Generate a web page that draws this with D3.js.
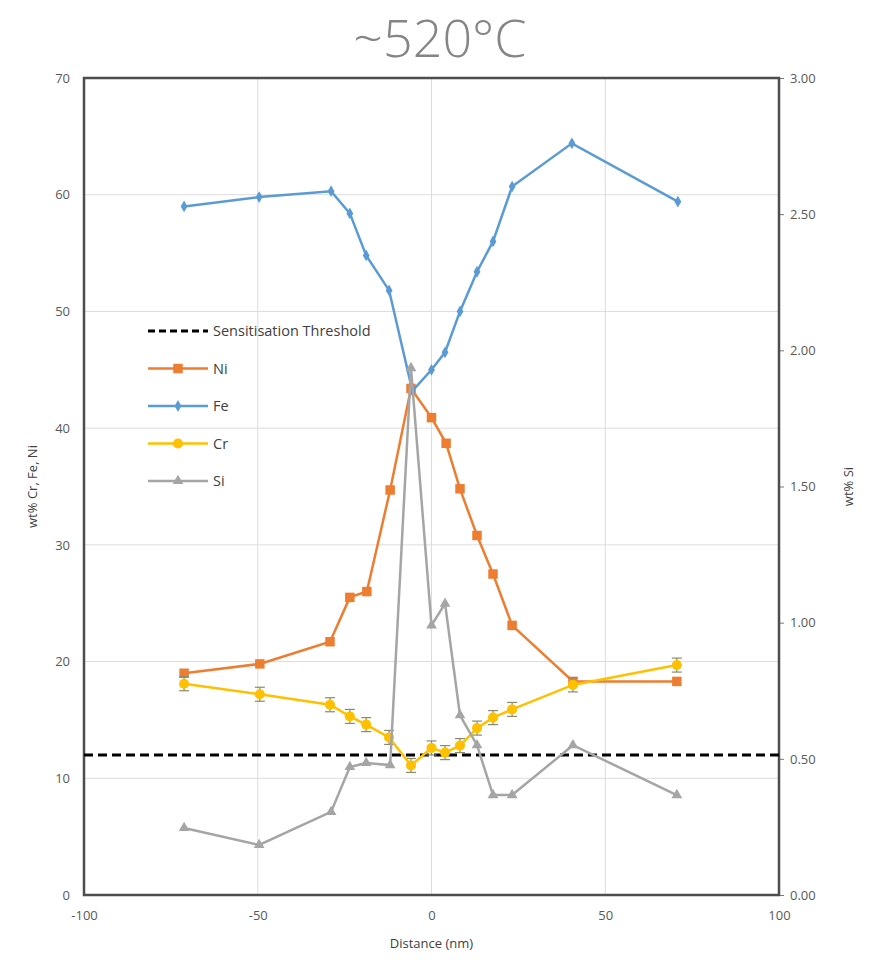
<!DOCTYPE html>
<html>
<head>
<meta charset="utf-8">
<script src="https://cdn.jsdelivr.net/npm/d3@7"></script>
<style>
  body { margin: 0; background: #fff; }
  svg text { font-family: "Open Sans", "Noto Sans", sans-serif; }
</style>
</head>
<body>
<div id="chart"></div>
<script>
const width = 890,
  height = 960,
  margin = {top: 78, right: 111, bottom: 65, left: 84};

// distances (nm) per series
const feX = [-71.2, -49.6, -28.9, -23.5, -18.8, -12.2, -5.5, 0, 3.9, 8.2, 13.1, 17.7, 23.2, 40.4, 70.9];
const feY = [59.0, 59.8, 60.3, 58.4, 54.8, 51.8, 43.2, 45.0, 46.5, 50.0, 53.4, 56.0, 60.7, 64.4, 59.4];

const niX = [-71.2, -49.4, -29.2, -23.5, -18.6, -11.9, -5.9, 0, 4.2, 8.2, 13.1, 17.7, 23.2, 40.7, 70.6];
const niY = [19.0, 19.8, 21.7, 25.5, 26.0, 34.7, 43.4, 40.9, 38.7, 34.8, 30.8, 27.5, 23.1, 18.3, 18.3];

const crX = [-71.2, -49.4, -29.2, -23.5, -18.8, -12.2, -5.9, 0, 3.9, 8.2, 13.1, 17.7, 23.2, 40.7, 70.6];
const crY = [18.1, 17.2, 16.3, 15.3, 14.6, 13.5, 11.1, 12.6, 12.2, 12.8, 14.3, 15.2, 15.9, 18.0, 19.7];
const crErr = [0.6, 0.6, 0.6, 0.6, 0.6, 0.6, 0.6, 0.6, 0.6, 0.6, 0.6, 0.6, 0.6, 0.6, 0.6];

const siX = [-71.2, -49.6, -28.9, -23.5, -18.8, -11.9, -5.9, 0, 3.9, 8.2, 13.1, 17.7, 23.2, 40.7, 70.6];
const siY = [0.246, 0.184, 0.305, 0.47, 0.485, 0.477, 1.935, 0.99, 1.07, 0.66, 0.55, 0.367, 0.367, 0.55, 0.367];

const threshold = 12;

const xTicks = [-100, -50, 0, 50, 100];
const yTicks = [0, 10, 20, 30, 40, 50, 60, 70];
const y2Ticks = [0, 0.5, 1, 1.5, 2, 2.5, 3];

const colors = {Ni: '#ed7d31', Fe: '#5b9bd5', Cr: '#ffc000', Si: '#a5a5a5'};

const x = d3.scaleLinear().domain([-100, 100]).range([margin.left, width - margin.right]);
const y = d3.scaleLinear().domain([0, 70]).range([height - margin.bottom, margin.top]);
const y2 = d3.scaleLinear().domain([0, 3]).range([height - margin.bottom, margin.top]);

const svg = d3.select('#chart').append('svg')
  .attr('width', width)
  .attr('height', height);

// title
svg.append('text')
  .attr('x', 440)
  .attr('y', 57)
  .attr('text-anchor', 'middle')
  .attr('font-size', 52)
  .attr('font-weight', 300)
  .attr('fill', '#858585')
  .text('~520°C');

// gridlines
const grid = svg.append('g').attr('class', 'grid');
grid.selectAll('line.h')
  .data(yTicks.slice(1, -1))
  .enter().append('line')
  .attr('x1', x(-100)).attr('x2', x(100))
  .attr('y1', d => y(d)).attr('y2', d => y(d))
  .attr('stroke', '#dcdcdc');
grid.selectAll('line.v')
  .data(xTicks.slice(1, -1))
  .enter().append('line')
  .attr('x1', d => x(d)).attr('x2', d => x(d))
  .attr('y1', y(0)).attr('y2', y(70))
  .attr('stroke', '#dcdcdc');

// axes
const axisColor = '#595959';
const yAxis = svg.append('g')
  .attr('transform', `translate(${margin.left},0)`)
  .call(d3.axisLeft(y).tickValues(yTicks).tickSize(0).tickPadding(14));
const y2Axis = svg.append('g')
  .attr('transform', `translate(${width - margin.right},0)`)
  .call(d3.axisRight(y2).tickValues(y2Ticks).tickSize(5).tickPadding(6).tickFormat(d => d.toFixed(2)));
const xAxis = svg.append('g')
  .attr('transform', `translate(0,${height - margin.bottom})`)
  .call(d3.axisBottom(x).tickValues(xTicks).tickSize(0).tickPadding(16).tickFormat(d => String(d)));

[yAxis, y2Axis, xAxis].forEach(a => {
  a.select('.domain').remove();
  a.selectAll('text').attr('font-size', 13).attr('fill', axisColor)
    .attr('font-family', '"Open Sans", sans-serif');
  a.selectAll('line').attr('stroke', '#777');
});

// frame
svg.append('rect')
  .attr('x', x(-100)).attr('y', y(70))
  .attr('width', x(100) - x(-100))
  .attr('height', y(0) - y(70))
  .attr('fill', 'none')
  .attr('stroke', '#4d4d4d')
  .attr('stroke-width', 2.5);

// axis titles
svg.append('text')
  .attr('transform', `translate(37,${(y(0) + y(70)) / 2}) rotate(-90)`)
  .attr('text-anchor', 'middle')
  .attr('font-size', 13)
  .attr('fill', '#404040')
  .text('wt% Cr, Fe, Ni');
svg.append('text')
  .attr('transform', `translate(853,${(y(0) + y(70)) / 2}) rotate(-90)`)
  .attr('text-anchor', 'middle')
  .attr('font-size', 13)
  .attr('fill', '#404040')
  .text('wt% Si');
svg.append('text')
  .attr('x', x(0))
  .attr('y', 948)
  .attr('text-anchor', 'middle')
  .attr('font-size', 13)
  .attr('fill', '#404040')
  .text('Distance (nm)');

// threshold
svg.append('line')
  .attr('x1', x(-100)).attr('x2', x(100))
  .attr('y1', y(threshold)).attr('y2', y(threshold))
  .attr('stroke', '#000')
  .attr('stroke-width', 3)
  .attr('stroke-dasharray', '9,5');

const line = d3.line();

function drawSeries(name, xs, ys, yScale, symbol, size) {
  const pts = xs.map((d, i) => [x(d), yScale(ys[i])]);
  const g = svg.append('g').attr('class', 'series ' + name);
  g.append('path')
    .attr('d', line(pts))
    .attr('fill', 'none')
    .attr('stroke', colors[name])
    .attr('stroke-width', 2.5);
  g.selectAll('path.marker')
    .data(pts)
    .enter().append('path')
    .attr('class', 'marker')
    .attr('transform', p => `translate(${p[0]},${p[1]})`)
    .attr('d', d3.symbol().type(symbol).size(size))
    .attr('fill', colors[name]);
  return g;
}

drawSeries('Ni', niX, niY, y, d3.symbolSquare, 90);
drawSeries('Fe', feX, feY, y, d3.symbolDiamond, 40);

// Cr error bars
const errG = svg.append('g').attr('class', 'errors');
crX.forEach((d, i) => {
  const cx = x(d), lo = y(crY[i] - crErr[i]), hi = y(crY[i] + crErr[i]);
  errG.append('line').attr('x1', cx).attr('x2', cx).attr('y1', lo).attr('y2', hi)
    .attr('stroke', '#8a8a70').attr('stroke-width', 1.2);
  [lo, hi].forEach(v => errG.append('line')
    .attr('x1', cx - 5).attr('x2', cx + 5).attr('y1', v).attr('y2', v)
    .attr('stroke', '#8a8a70').attr('stroke-width', 1.2));
});
drawSeries('Cr', crX, crY, y, d3.symbolCircle, 80);
drawSeries('Si', siX, siY, y2, d3.symbolTriangle, 50);

// legend
const legendItems = [
  {name: 'Sensitisation Threshold', type: 'dash'},
  {name: 'Ni', symbol: d3.symbolSquare, size: 90},
  {name: 'Fe', symbol: d3.symbolDiamond, size: 40},
  {name: 'Cr', symbol: d3.symbolCircle, size: 80},
  {name: 'Si', symbol: d3.symbolTriangle, size: 50}
];
const legend = svg.append('g').attr('transform', 'translate(148,331)');
legendItems.forEach((it, i) => {
  const row = legend.append('g').attr('transform', `translate(0,${i * 37.5})`);
  if (it.type === 'dash') {
    row.append('line').attr('x1', 0).attr('x2', 60)
      .attr('stroke', '#000').attr('stroke-width', 3).attr('stroke-dasharray', '7,4');
  } else {
    row.append('line').attr('x1', 0).attr('x2', 60)
      .attr('stroke', colors[it.name]).attr('stroke-width', 2.5);
    row.append('path')
      .attr('transform', 'translate(30,0)')
      .attr('d', d3.symbol().type(it.symbol).size(it.size))
      .attr('fill', colors[it.name]);
  }
  row.append('text')
    .attr('x', 65).attr('y', 5)
    .attr('font-size', 14.5)
    .attr('fill', '#404040')
    .text(it.name);
});
</script>
</body>
</html>
